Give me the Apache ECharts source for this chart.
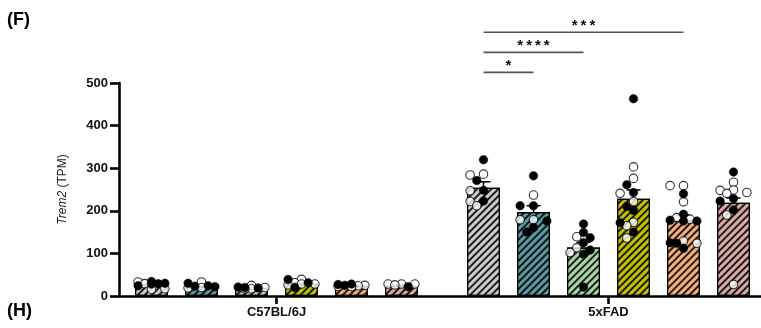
<!DOCTYPE html>
<html>
<head>
<meta charset="utf-8">
<script src="https://cdn.jsdelivr.net/npm/echarts@6/dist/echarts.min.js"></script>
<style>
  html, body { margin: 0; padding: 0; background: #fff; }
  #chart { width: 761px; height: 328px; }
</style>
</head>
<body>
<div id="chart"></div>
<script>
// Strain groups shown on the x axis
const strains = ['C57BL/6J', '5xFAD'];

// Bar heights (group means, TPM) for the six conditions in each strain
const meanC57 = [26, 23, 18, 29, 24, 24];
const mean5xFAD = [254, 197, 114, 228, 177, 219];

// Upper error (SEM) for each bar
const semC57 = [2, 2, 1.5, 2.5, 1, 1.5];
const sem5xFAD = [14, 15, 12, 21, 13, 11];

// Individual animals: open circles
const openC57 = [[29, 33, 16, 17], [33, 20, 19], [25, 20, 17, 17], [39, 31, 26, 28, 28], [24, 22, 23, 24, 25], [26, 28, 28, 28]];
const open5xFAD = [
  [286, 284, 247, 222, 212],
  [237, 179, 179],
  [139, 113, 102],
  [303, 276, 241, 222, 173, 165, 136],
  [259, 259, 221, 184, 180, 129, 124],
  [267, 241, 248, 243, 249, 190, 27]
];
// Individual animals: filled circles
const filledC57 = [[30, 28, 29, 24, 34], [30, 24, 23, 22], [20, 21, 19], [31, 39, 20], [28, 27, 25], [22]];
const filled5xFAD = [
  [320, 271, 248, 223],
  [282, 212, 212, 176, 161, 150],
  [169, 149, 137, 125, 108, 98, 21],
  [463, 261, 243, 201, 210, 172, 150],
  [240, 192, 176, 176, 178, 124, 125, 112],
  [291, 229, 223, 202]
];

// Significance brackets within 5xFAD: [from bar, to bar, label, height in TPM]
const bracketFrom = [0, 0, 0];
const bracketTo = [1, 2, 4];
const bracketLabels = ['*', '****', '***'];
const bracketLevels = [525, 572, 619];

// ---- styling ----
const FONT = '"Liberation Sans", Arial, sans-serif';
const barColors = ['#cdcdcd', '#5b9aa1', '#a7d7a7', '#c4c200', '#f3b07c', '#d8aba7'];
const groupCenters = [3.15, 9.79];   // x position of each strain group (bar-spacing units)
function barX(g, k) { return groupCenters[g] + (k - 2.5); }

// "/" hatching over each bar
const hatch = {
  symbol: 'rect',
  symbolSize: 1,
  dashArrayX: [1, 0],
  dashArrayY: [1.1, 2.3],
  rotation: -Math.PI / 4,
  color: 'rgba(0,0,0,0.85)'
};

const chart = echarts.init(document.getElementById('chart'), null, { renderer: 'canvas' });

const series = [];
for (let k = 0; k < 6; k++) {
  series.push({
    type: 'bar',
    silent: true,
    barWidth: 33,
    barGap: '-100%',
    z: 2,
    itemStyle: { color: barColors[k], borderColor: '#000', borderWidth: 1.2, decal: hatch },
    data: [[barX(0, k), meanC57[k]], [barX(1, k), mean5xFAD[k]]]
  });
}

const errData = [];
for (let k = 0; k < 6; k++) {
  errData.push([barX(0, k), meanC57[k], semC57[k]]);
  errData.push([barX(1, k), mean5xFAD[k], sem5xFAD[k]]);
}
series.push({
  type: 'custom',
  silent: true,
  z: 3,
  data: errData,
  renderItem: function (params, api) {
    const x = api.value(0), m = api.value(1), s = api.value(2);
    const p0 = api.coord([x, m]);
    const p1 = api.coord([x, m + s]);
    const st = { stroke: '#000', lineWidth: 1.5 };
    return {
      type: 'group',
      children: [
        { type: 'line', shape: { x1: p0[0], y1: p0[1], x2: p1[0], y2: p1[1] }, style: st },
        { type: 'line', shape: { x1: p1[0] - 7, y1: p1[1], x2: p1[0] + 7, y2: p1[1] }, style: st }
      ]
    };
  }
});

series.push({
  name: 'open', type: 'scatter', silent: true, z: 4, symbol: 'circle', symbolSize: 8.5,
  itemStyle: { color: '#fff', borderColor: '#000', borderWidth: 1.1 }, data: []
});
series.push({
  name: 'filled', type: 'scatter', silent: true, z: 5, symbol: 'circle', symbolSize: 8.5,
  itemStyle: { color: '#000', borderColor: '#000', borderWidth: 0.5, opacity: 1 }, data: []
});

const option = {
  animation: false,
  backgroundColor: '#fff',
  grid: { left: 119, right: 0, top: 83, bottom: 32 },
  xAxis: {
    type: 'value',
    min: 0,
    max: 12.84,
    axisLine: { show: true, lineStyle: { color: '#000', width: 2.6 } },
    axisTick: { show: true, customValues: groupCenters, length: 8, lineStyle: { color: '#000', width: 2.6 } },
    axisLabel: {
      show: true,
      customValues: groupCenters,
      margin: 10,
      formatter: function (v) {
        let best = 0;
        for (let i = 1; i < groupCenters.length; i++) {
          if (Math.abs(groupCenters[i] - v) < Math.abs(groupCenters[best] - v)) best = i;
        }
        return strains[best];
      },
      color: '#111', fontFamily: FONT, fontWeight: 'bold', fontSize: 13
    },
    splitLine: { show: false }
  },
  yAxis: {
    type: 'value',
    min: 0,
    max: 500,
    interval: 100,
    name: '{i|Trem2} (TPM)',
    nameLocation: 'middle',
    nameGap: 50,
    nameTextStyle: {
      fontFamily: FONT, fontSize: 12, color: '#222',
      rich: { i: { fontFamily: FONT, fontSize: 12, fontStyle: 'italic', color: '#222' } }
    },
    axisLine: { show: true, lineStyle: { color: '#000', width: 2.6 } },
    axisTick: { show: true, length: 9, lineStyle: { color: '#000', width: 2.6 } },
    axisLabel: { color: '#111', fontFamily: FONT, fontWeight: 'bold', fontSize: 13, margin: 11 },
    splitLine: { show: false }
  },
  series: series
};

chart.setOption(option);

// Spread the animal points sideways (a narrow beeswarm, at most two columns each side)
const step = 6.7, minDist = 7.2, maxCol = 2;
const pxPerUnitX = chart.convertToPixel({ gridIndex: 0 }, [1, 0])[0] - chart.convertToPixel({ gridIndex: 0 }, [0, 0])[0];
const openPts = [], filledPts = [];
function swarm(g, k, openVals, filledVals) {
  const pts = [];
  openVals.forEach(v => pts.push({ v: v, filled: false }));
  filledVals.forEach(v => pts.push({ v: v, filled: true }));
  pts.sort((a, b) => b.v - a.v);
  const placed = [];
  const cx = barX(g, k);
  const cols = [0];
  for (let c = 1; c <= maxCol; c++) cols.push(-c, c);
  pts.forEach(p => {
    const py = chart.convertToPixel({ gridIndex: 0 }, [cx, p.v])[1];
    let off = null, bestOff = 0, bestGap = -1;
    for (const c of cols) {
      const ox = c * step;
      let gap = Infinity;
      placed.forEach(q => { gap = Math.min(gap, Math.hypot(q.x - ox, q.y - py)); });
      if (gap >= minDist) { off = ox; break; }
      if (gap > bestGap + 0.5) { bestGap = gap; bestOff = ox; }
    }
    if (off === null) off = bestOff;
    placed.push({ x: off, y: py });
    (p.filled ? filledPts : openPts).push([cx + off / pxPerUnitX, p.v]);
  });
}
for (let k = 0; k < 6; k++) {
  swarm(0, k, openC57[k], filledC57[k]);
  swarm(1, k, open5xFAD[k], filled5xFAD[k]);
}

// Significance brackets and panel letters
const graphics = [];
for (let i = 0; i < bracketLabels.length; i++) {
  const a = chart.convertToPixel({ gridIndex: 0 }, [barX(1, bracketFrom[i]), bracketLevels[i]]);
  const b = chart.convertToPixel({ gridIndex: 0 }, [barX(1, bracketTo[i]), bracketLevels[i]]);
  graphics.push({
    type: 'line', silent: true,
    shape: { x1: a[0], y1: a[1], x2: b[0], y2: b[1] },
    style: { stroke: '#555', lineWidth: 1.6 }
  });
  graphics.push({
    type: 'text', silent: true,
    x: (a[0] + b[0]) / 2, y: a[1] - 6,
    style: {
      text: bracketLabels[i].split('').join('\u2009'),
      font: 'bold 15px ' + FONT, fill: '#111', align: 'center', verticalAlign: 'middle'
    }
  });
}
graphics.push({ type: 'text', silent: true, left: 7, top: 11, style: { text: '(F)', font: 'bold 18px ' + FONT, fill: '#000' } });
graphics.push({ type: 'text', silent: true, left: 7, top: 302, style: { text: '(H)', font: 'bold 18px ' + FONT, fill: '#000' } });

chart.setOption({
  series: [
    ...series.slice(0, series.length - 2).map(() => ({})),
    { data: openPts },
    { data: filledPts }
  ],
  graphic: graphics
});
</script>
</body>
</html>
